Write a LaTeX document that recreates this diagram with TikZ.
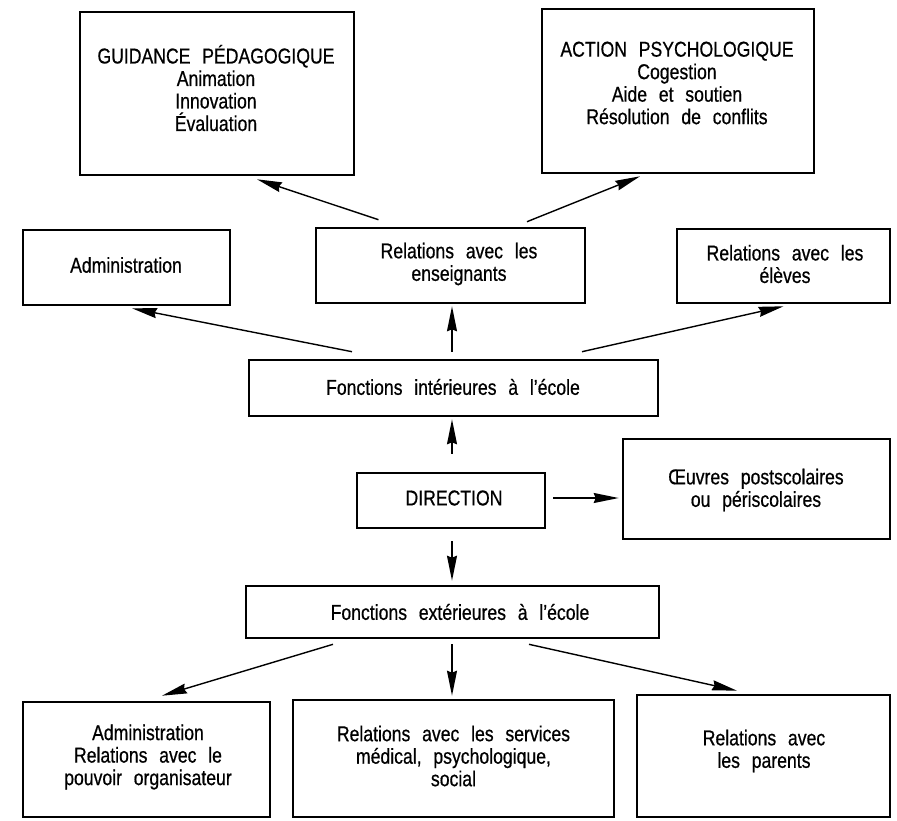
\documentclass[tikz,border=0pt]{standalone}
\usepackage{fontspec}
\setmainfont[Ligatures=TeX,FakeStretch=0.82,WordSpace={2.4},FakeBold=0.6]{Liberation Sans}
\usetikzlibrary{arrows.meta}
\begin{document}
\begin{tikzpicture}[x=1pt,y=-1pt,
  box/.style={draw, line width=2.6pt, rectangle, inner sep=0pt},
  lbl/.style={align=center, inner sep=0pt, font=\fontsize{21.5}{22.5}\selectfont},
  arr/.style={line width=1.4pt, -{Stealth[length=25pt,width=10pt,inset=2pt]}}]
\useasboundingbox (0,0) rectangle (897,820);
% boxes
\node[box, minimum width=274pt, minimum height=163pt] (guid) at (217,93.5) {};
\node[box, minimum width=272pt, minimum height=164pt] (act) at (678,91) {};
\node[box, minimum width=207pt, minimum height=75pt] (adm) at (126.5,267.5) {};
\node[box, minimum width=269pt, minimum height=75pt] (ens) at (450.5,265.5) {};
\node[box, minimum width=213pt, minimum height=74pt] (elv) at (783.5,266) {};
\node[box, minimum width=409pt, minimum height=56pt] (fint) at (453.5,388) {};
\node[box, minimum width=188pt, minimum height=55pt] (dir) at (451,500.5) {};
\node[box, minimum width=267pt, minimum height=100pt] (oeuv) at (756.5,489) {};
\node[box, minimum width=413pt, minimum height=52pt] (fext) at (452.5,612) {};
\node[box, minimum width=247pt, minimum height=115pt] (adm2) at (146.5,759.5) {};
\node[box, minimum width=321pt, minimum height=117pt] (serv) at (453.5,758.5) {};
\node[box, minimum width=253pt, minimum height=122pt] (par) at (763.5,756) {};
% texts
\node[lbl] (guidt) at (216,88) {GUIDANCE PÉDAGOGIQUE\\Animation\\Innovation\\Évaluation};
\node[lbl] (actt) at (677,83) {ACTION PSYCHOLOGIQUE\\Cogestion\\Aide et soutien\\Résolution de conflits};
\node[lbl] (admt) at (126,265) {Administration};
\node[lbl] (enst) at (459,264) {Relations avec les\\enseignants};
\node[lbl] (elvt) at (785,264) {Relations avec les\\élèves};
\node[lbl] (fintt) at (453,387) {Fonctions intérieures à l’école};
\node[lbl] (dirt) at (454,498) {DIRECTION};
\node[lbl] (oeuvt) at (756,490) {Œuvres postscolaires\\ou périscolaires};
\node[lbl] (fextt) at (460,612) {Fonctions extérieures à l’école};
\node[lbl] (adm2t) at (148,757) {Administration\\Relations avec le\\pouvoir organisateur};
\node[lbl] (servt) at (453.5,756) {Relations avec les services\\médical, psychologique,\\social};
\node[lbl] (part) at (764,751) {Relations avec\\les parents};
% connectors
\draw[arr] ([xshift=-72pt,yshift=7pt]ens.north) -- ([xshift=40pt,yshift=-3pt]guid.south);
\draw[arr] ([xshift=76.5pt,yshift=5pt]ens.north) -- ([xshift=-38pt,yshift=-2pt]act.south);
\draw[arr] ([xshift=-101.5pt,yshift=7pt]fint.north) -- ([xshift=5.5pt,yshift=-2pt]adm.south);
\draw[arr] ([xshift=-1.5pt,yshift=7pt]fint.north) -- ([xshift=1.5pt,yshift=-2pt]ens.south);
\draw[arr] ([xshift=128.5pt,yshift=7pt]fint.north) -- ([yshift=-2pt]elv.south);
\draw[arr] ([xshift=1pt,yshift=18pt]dir.north) -- ([xshift=-1.5pt,yshift=-2pt]fint.south);
\draw[arr] ([xshift=7pt,yshift=2.5pt]dir.east) -- ([xshift=-3pt,yshift=-9pt]oeuv.west);
\draw[arr] ([xshift=1pt,yshift=-12pt]dir.south) -- ([xshift=-0.5pt,yshift=4pt]fext.north);
\draw[arr] ([xshift=-119.5pt,yshift=-5pt]fext.south) -- ([xshift=15.5pt,yshift=5pt]adm2.north);
\draw[arr] ([xshift=-0.5pt,yshift=-5pt]fext.south) -- ([xshift=-1.5pt,yshift=3pt]serv.north);
\draw[arr] ([xshift=76.5pt,yshift=-5pt]fext.south) -- ([xshift=-26.5pt,yshift=3pt]par.north);
\end{tikzpicture}
\end{document}
